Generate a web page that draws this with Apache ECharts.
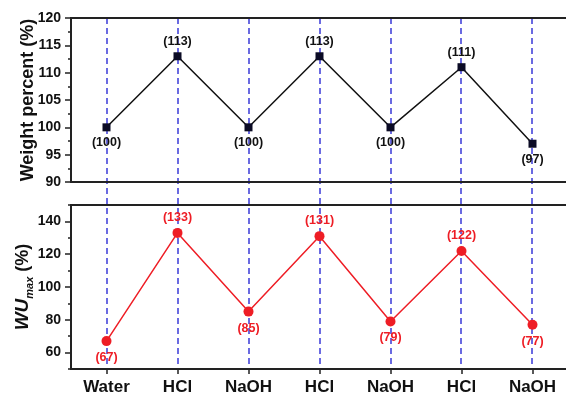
<!DOCTYPE html>
<html>
<head>
<meta charset="utf-8">
<script src="https://cdn.jsdelivr.net/npm/echarts@6/dist/echarts.min.js"></script>
<style>
  html, body { margin: 0; padding: 0; background: #fff; }
  #chart { width: 566px; height: 398px; }
</style>
</head>
<body>
<div id="chart"></div>
<script>
// Treatment sequence (x categories)
const treatments = ['Water', 'HCl', 'NaOH', 'HCl', 'NaOH', 'HCl', 'NaOH'];
// Upper panel: weight percent (%)
const weightPercent = [100, 113, 100, 113, 100, 111, 97];
// Lower panel: maximum water uptake (%)
const wuMax = [67, 133, 85, 131, 79, 122, 77];
// Tick labels of the lower value axis
const wuTickLabels = [60, 80, 100, 120, 140];

const FONT = '"Liberation Sans", Arial, sans-serif';
const RED = '#ee1d25';
const DARK = '#111';

// Peaks get their label above, valleys below
function labelledPoints(values) {
  return values.map((v, i) => {
    const prev = i > 0 ? values[i - 1] : -Infinity;
    const next = i < values.length - 1 ? values[i + 1] : -Infinity;
    const peak = v > prev && v >= next;
    return {
      value: v,
      label: { position: peak ? 'top' : 'bottom', distance: peak ? 4 : 5 }
    };
  });
}

const chart = echarts.init(document.getElementById('chart'), null, { renderer: 'canvas' });

const tickStyle = { color: '#222', width: 1.5 };

const valueAxisBase = {
  axisLine: { show: true, lineStyle: { color: '#222', width: 2 } },
  axisTick: { show: true, inside: false, length: 6, lineStyle: tickStyle },
  axisLabel: { color: DARK, fontFamily: FONT, fontWeight: 'bold', fontSize: 14, margin: 10 },
  splitLine: { show: false },
  nameLocation: 'middle',
  nameRotate: 90,
  nameMoveOverlap: false
};

const gridBase = { outerBoundsMode: 'none', containLabel: false };
const lowerRect = { left: 71, right: -2, top: 205, bottom: 29 };

chart.setOption({
  animation: false,
  backgroundColor: '#fff',
  grid: [
    Object.assign({ left: 71, right: -2, top: 18, bottom: 216, show: true, borderColor: '#222', borderWidth: 2, z: 1 }, gridBase),
    Object.assign({ show: true, borderColor: '#222', borderWidth: 2, z: 1 }, lowerRect, gridBase),
    // guide grid spanning both panels, category centres at its edges
    Object.assign({ left: 107, right: 34, top: 18, bottom: 29, show: false }, gridBase),
    // overlay of the lower panel carrying its major ticks
    Object.assign({ show: false }, lowerRect, gridBase)
  ],
  xAxis: [
    {
      gridIndex: 0, type: 'category', data: treatments, boundaryGap: true,
      axisLine: { show: true, lineStyle: { color: '#222', width: 2 } },
      axisTick: { show: false }, axisLabel: { show: false }, splitLine: { show: false }
    },
    {
      gridIndex: 1, type: 'category', data: treatments, boundaryGap: true,
      axisLine: { show: true, lineStyle: { color: '#222', width: 2 } },
      axisTick: { show: true, alignWithLabel: true, inside: false, length: 5, lineStyle: tickStyle },
      axisLabel: { color: DARK, fontFamily: FONT, fontWeight: 'bold', fontSize: 17, margin: 10 },
      splitLine: { show: false }
    },
    {
      gridIndex: 2, type: 'category', data: treatments, boundaryGap: false,
      axisLine: { show: false }, axisTick: { show: false }, axisLabel: { show: false },
      splitLine: { show: true, interval: 0, lineStyle: { color: '#3a3ad8', width: 1.5, type: [6, 4] } },
      z: 0
    },
    {
      gridIndex: 3, type: 'category', data: treatments, show: false
    }
  ],
  yAxis: [
    Object.assign({}, valueAxisBase, {
      gridIndex: 0, type: 'value', min: 90, max: 120, interval: 5,
      minorTick: { show: true, splitNumber: 2, length: 3, lineStyle: tickStyle },
      name: 'Weight percent (%)', nameGap: 34,
      nameTextStyle: { color: DARK, fontFamily: FONT, fontWeight: 'bold', fontSize: 18 }
    }),
    // lower panel: minor ticks every 10, labels at 60..140
    Object.assign({}, valueAxisBase, {
      gridIndex: 1, type: 'value', min: 50, max: 150, interval: 10,
      axisTick: { show: true, inside: false, length: 3, lineStyle: tickStyle },
      axisLabel: Object.assign({}, valueAxisBase.axisLabel, {
        customValues: wuTickLabels
      }),
      name: '{i|WU}{s|max}{n| (%)}', nameGap: 36,
      nameTextStyle: {
        color: DARK, fontFamily: FONT, fontWeight: 'bold', fontSize: 18,
        rich: {
          i: { fontFamily: FONT, fontWeight: 'bold', fontStyle: 'italic', fontSize: 19, color: DARK, lineHeight: 24, verticalAlign: 'middle' },
          s: { fontFamily: FONT, fontWeight: 'bold', fontStyle: 'italic', fontSize: 11, color: DARK, lineHeight: 24, verticalAlign: 'bottom' },
          n: { fontFamily: FONT, fontWeight: 'bold', fontSize: 18, color: DARK, lineHeight: 24, verticalAlign: 'middle' }
        }
      }
    }),
    {
      gridIndex: 2, type: 'value', show: false, min: 0, max: 1
    },
    // lower panel: major ticks at the labelled values
    {
      gridIndex: 3, type: 'value', min: 50, max: 150, position: 'left',
      axisLine: { show: false }, axisLabel: { show: false }, splitLine: { show: false },
      axisTick: { show: true, inside: false, length: 6, customValues: wuTickLabels, lineStyle: tickStyle }
    }
  ],
  series: [
    {
      type: 'line', xAxisIndex: 0, yAxisIndex: 0,
      data: labelledPoints(weightPercent),
      symbol: 'rect', symbolSize: 8,
      itemStyle: { color: '#0b0b25' },
      lineStyle: { color: DARK, width: 1.5 },
      label: {
        show: true, formatter: p => '(' + p.value + ')',
        color: DARK, fontFamily: FONT, fontWeight: 'bold', fontSize: 12.5
      },
      z: 5
    },
    {
      type: 'line', xAxisIndex: 1, yAxisIndex: 1,
      data: labelledPoints(wuMax),
      symbol: 'circle', symbolSize: 10,
      itemStyle: { color: RED },
      lineStyle: { color: RED, width: 1.5 },
      label: {
        show: true, formatter: p => '(' + p.value + ')',
        color: RED, fontFamily: FONT, fontWeight: 'bold', fontSize: 12.5
      },
      z: 5
    }
  ]
});
</script>
</body>
</html>
